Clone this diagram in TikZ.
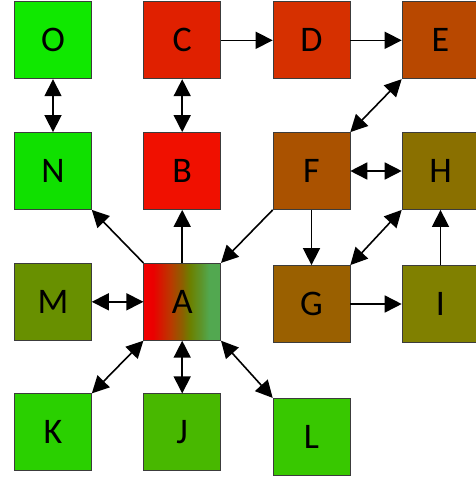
\documentclass[tikz,border=0pt]{standalone}
\usepackage{fontspec}
\setmainfont{Carlito}
\usetikzlibrary{arrows.meta}
\definecolor{cO}{RGB}{16,232,0}
\definecolor{cN}{RGB}{16,224,0}
\definecolor{cC}{RGB}{224,32,0}
\definecolor{cB}{RGB}{240,16,0}
\definecolor{cD}{RGB}{214,48,0}
\definecolor{cE}{RGB}{184,72,0}
\definecolor{cF}{RGB}{170,82,0}
\definecolor{cH}{RGB}{138,112,0}
\definecolor{cG}{RGB}{154,96,0}
\definecolor{cI}{RGB}{128,128,0}
\definecolor{cM}{RGB}{104,144,0}
\definecolor{cK}{RGB}{42,208,0}
\definecolor{cJ}{RGB}{72,184,0}
\definecolor{cL}{RGB}{56,200,0}
\definecolor{bord}{RGB}{60,60,60}
\pgfdeclarehorizontalshading{agrad}{100bp}{color(0bp)=(red!95!black); color(25bp)=(red!95!black); color(31bp)=(red!92!black); color(42.5bp)=({rgb,255:red,185;green,58;blue,0}); color(50bp)=({rgb,255:red,140;green,96;blue,0}); color(55bp)=({rgb,255:red,108;green,128;blue,0}); color(62.5bp)=({rgb,255:red,92;green,150;blue,45}); color(67.5bp)=({rgb,255:red,82;green,168;blue,80}); color(75bp)=({rgb,255:red,82;green,168;blue,80}); color(100bp)=({rgb,255:red,82;green,168;blue,80})}
\tikzset{
  box/.style={draw=bord, line width=0.8pt, minimum width=76.8pt, minimum height=77pt, inner sep=0pt, font=\fontsize{36}{36}\selectfont},
  conn/.style={line width=1.6pt, black},
  tip/.tip={Triangle[length=17pt,width=17pt]},
  one/.style={conn, -tip},
  two/.style={conn, tip-tip}
}
\begin{document}
\begin{tikzpicture}[x=1pt,y=-1pt]
\useasboundingbox (0,0) rectangle (476,477);
\clip (0,0) rectangle (476,477);
\node[box, fill=cO] (O) at (53,40.3) {O};
\node[box, fill=cC] (C) at (182.2,40.3) {C};
\node[box, fill=cD] (D) at (311.5,40.3) {D};
\node[box, fill=cE] (E) at (440.5,40.3) {E};
\node[box, fill=cN] (N) at (53,171) {N};
\node[box, fill=cB] (B) at (182.2,171) {B};
\node[box, fill=cF] (F) at (311.5,171) {F};
\node[box, fill=cH] (H) at (440.5,171) {H};
\node[box, fill=cM] (M) at (53,301.8) {M};
\node[box, shading=agrad] (A) at (182.2,301.8) {A};
\node[box, fill=cG] (G) at (311.5,304) {G};
\node[box, fill=cI] (I) at (440.5,304) {I};
\node[box, fill=cK] (K) at (53,432.3) {K};
\node[box, fill=cJ] (J) at (182.2,432.3) {J};
\node[box, fill=cL] (L) at (311.5,436.8) {L};
\draw[two] (O) -- (N);
\draw[two] (C) -- (B);
\draw[one] (C) -- (D);
\draw[one] (D) -- (E);
\draw[two] (E.south west) -- (F.north east);
\draw[two] (F) -- (H);
\draw[one] (F.south west) -- (A.north east);
\draw[one] (F) -- (G);
\draw[two] (G.north east) -- (H.south west);
\draw[one] (I) -- (H);
\draw[one] (G) -- (I);
\draw[one] (A.north west) -- (N.south east);
\draw[one] (A) -- (B);
\draw[two] (A) -- (M);
\draw[two] (A.south west) -- (K.north east);
\draw[two] (A) -- (J);
\draw[two] (A.south east) -- (L.north west);
\end{tikzpicture}
\end{document}
